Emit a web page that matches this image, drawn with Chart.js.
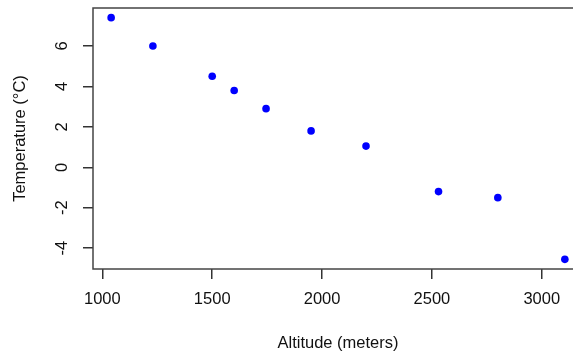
<!DOCTYPE html>
<html>
<head>
<meta charset="utf-8">
<script src="https://cdn.jsdelivr.net/npm/chart.js@4/dist/chart.umd.min.js"></script>
<style>
  html, body { margin: 0; padding: 0; background: #fff; overflow: hidden; }
  #wrap { width: 600px; height: 354px; }
</style>
</head>
<body>
<div id="wrap"><canvas id="chart" width="600" height="354"></canvas></div>
<script>
// altitude (m) vs temperature (C)
var altitude = [1040, 1230, 1500, 1600, 1745, 1950, 2200, 2530, 2800, 3105];
var temperature = [7.4, 6.0, 4.5, 3.8, 2.9, 1.8, 1.05, -1.2, -1.5, -4.55];
var xTicks = [1000, 1500, 2000, 2500, 3000];
var yTicks = [-4, -2, 0, 2, 4, 6];

// R style axis range: data range + 4% each side
function rRange(arr) {
  var lo = Math.min.apply(null, arr), hi = Math.max.apply(null, arr);
  var d = (hi - lo) * 0.04;
  return [lo - d, hi + d];
}
var xr = rRange(altitude);
var yr = rRange(temperature);

var points = [];
for (var i in altitude) {
  points.push({x: altitude[i], y: temperature[i]});
}

var font = {family: "'Liberation Sans', Arial, sans-serif", size: 16.5};

// box around the plot region, like R's box()
var boxPlugin = {
  id: 'box',
  beforeDatasetsDraw: function(chart) {
    var a = chart.chartArea, ctx = chart.ctx;
    ctx.save();
    ctx.strokeStyle = '#444';
    ctx.lineWidth = 1.5;
    ctx.strokeRect(a.left, a.top, a.right - a.left, a.bottom - a.top);
    ctx.restore();
  }
};

var ctx = document.getElementById('chart');
var chart = new Chart(ctx, {
  type: 'scatter',
  data: {
    datasets: [{
      data: points,
      backgroundColor: '#0000ff',
      borderWidth: 0,
      pointRadius: 3.8,
      pointHoverRadius: 3.8
    }]
  },
  options: {
    responsive: false,
    animation: false,
    layout: {padding: {left: 0, top: 8, right: 17, bottom: 0}},
    plugins: {legend: {display: false}, tooltip: {enabled: false}},
    scales: {
      x: {
        type: 'linear',
        min: xr[0],
        max: xr[1],
        afterBuildTicks: function(s) { s.ticks = xTicks.map(function(v) { return {value: v}; }); },
        afterFit: function(s) { s.height = 85; s.paddingLeft = 0; s.paddingRight = 0; },
        border: {display: false},
        grid: {drawOnChartArea: false, drawTicks: true, tickLength: 10, color: '#333', lineWidth: 1.5},
        ticks: {font: font, color: '#111', padding: 11, maxRotation: 0, autoSkip: false,
          callback: function(v) { return String(v); }},
        title: {display: true, text: 'Altitude (meters)', font: font, color: '#111', padding: {top: 1, bottom: 1}}
      },
      y: {
        type: 'linear',
        min: yr[0],
        max: yr[1],
        afterBuildTicks: function(s) { s.ticks = yTicks.map(function(v) { return {value: v}; }); },
        afterFit: function(s) { s.width = 93; s.paddingTop = 0; s.paddingBottom = 0; },
        border: {display: false},
        grid: {drawOnChartArea: false, drawTicks: true, tickLength: 10, color: '#333', lineWidth: 1.5},
        ticks: {font: font, color: '#111', padding: 13, minRotation: 90, maxRotation: 90,
          crossAlign: 'center', autoSkip: false,
          callback: function(v) { return String(v); }},
        title: {display: true, text: 'Temperature (°C)', font: font, color: '#111', padding: {top: 11, bottom: 11}}
      }
    }
  },
  plugins: [boxPlugin]
});
</script>
</body>
</html>
